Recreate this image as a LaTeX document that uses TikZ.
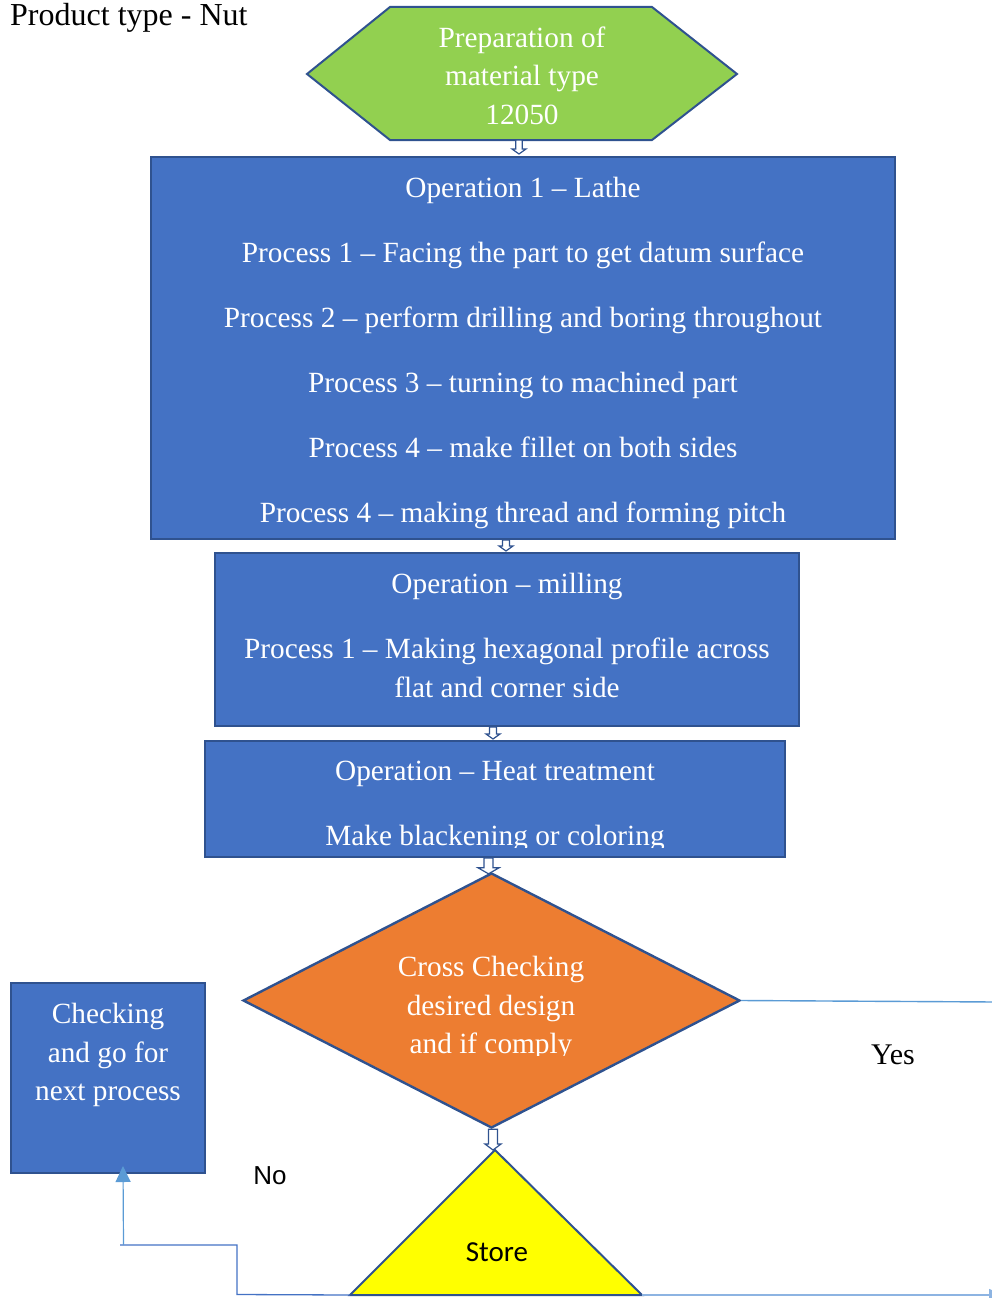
\documentclass[tikz,border=0pt]{standalone}
\usepackage{fontspec}
\setmainfont{Liberation Serif}
\newfontfamily\storefont{Carlito}
\newfontfamily\labelsans{Liberation Sans}
\usetikzlibrary{shapes.geometric,calc,arrows.meta}

\definecolor{boxblue}{HTML}{4472C4}
\definecolor{edgeblue}{HTML}{2F528F}
\definecolor{leafgreen}{HTML}{92D050}
\definecolor{decorange}{HTML}{ED7D31}
\definecolor{storeyellow}{HTML}{FFFF00}
\definecolor{linkblue}{HTML}{5B9BD5}
\definecolor{palelink}{HTML}{8DB4E2}

\tikzset{
  shapeedge/.style={draw=edgeblue, line width=2pt, line join=miter},
  procbox/.style={shapeedge, fill=boxblue, rectangle, inner sep=0pt},
  wtext/.style={text=white, font=\fontsize{29.3}{38.5}\selectfont, align=center, inner sep=0pt},
  blockarrow/.style={draw=edgeblue, fill=white, line width=1.2pt, line join=miter},
  yeslink/.style={draw=linkblue, line width=1.4pt},
  nolink/.style={draw=boxblue, line width=1.3pt},
  returnlink/.style={draw=palelink, line width=1.6pt, -{Triangle[width=12pt,length=14pt]}},
  recheckarrow/.style={draw=linkblue, line width=1.2pt, -{Triangle[width=15pt,length=16pt]}},
}

% hollow block arrow between two named points: from, to, body half width, head half width, head length, x shift
\newcommand\flowarrow[6]{%
  \draw[blockarrow] let \p1=(#1), \p2=(#2) in
    (\x2+#6pt-#3pt,\y1) -- (\x2+#6pt+#3pt,\y1) -- (\x2+#6pt+#3pt,\y2+#5pt)
    -- (\x2+#6pt+#4pt,\y2+#5pt) -- (\x2+#6pt,\y2) -- (\x2+#6pt-#4pt,\y2+#5pt)
    -- (\x2+#6pt-#3pt,\y2+#5pt) -- cycle;
}

\begin{document}
\begin{tikzpicture}[x=1pt,y=-1pt]
\useasboundingbox (0,0) rectangle (992,1298);

% title
\node[anchor=west, inner sep=0pt, font=\fontsize{32}{37}\selectfont] (title) at (10,18) {Product type - Nut};

% material preparation (hexagon)
\draw[shapeedge, fill=leafgreen] (307,74) -- (390,7) -- (652,7) -- (737,74) -- (652,140) -- (390,140) -- cycle;
\coordinate (hexbot) at (522,140);
\node[wtext] (prep) at (522,75.5) {Preparation of\\material type\\12050};

% operation boxes
\node[procbox, minimum width=744, minimum height=382] (op1) at (523,348) {};
\node[procbox, minimum width=584, minimum height=173] (op2) at (507,639.5) {};
\node[procbox, minimum width=580, minimum height=116] (op3) at (495,799) {};

\node[wtext] (op1text) at (523,353) {Operation 1 – Lathe\\[26.5pt]
  Process 1 – Facing the part to get datum surface\\[26.5pt]
  Process 2 – perform drilling and boring throughout\\[26.5pt]
  Process 3 – turning to machined part\\[26.5pt]
  Process 4 – make fillet on both sides\\[26.5pt]
  Process 4 – making thread and forming pitch};
\node[wtext] (op2text) at (507,635.5) {Operation – milling\\[26.5pt]
  Process 1 – Making hexagonal profile across\\flat and corner side};
\begin{scope}
  \clip (0,700) rectangle (992,847);
  \node[wtext] (op3text) at (495,806.5) {Operation – Heat treatment\\[26.5pt]Make blackening or coloring};
\end{scope}

% inspection decision
\node[diamond, shapeedge, line width=2.4pt, fill=decorange, minimum width=497, minimum height=255, inner sep=0pt] (check) at (491.5,1000.5) {};
\begin{scope}
  \clip (0,900) rectangle (992,1055);
  \node[wtext] (checktext) at (491,1008) {Cross Checking\\desired design\\and if comply};
\end{scope}

% rework box
\node[procbox, minimum width=194, minimum height=190] (recheck) at (108,1078) {};
\node[wtext] (rechecktext) at (108,1055) {Checking\\and go for\\next process};

% store (triangle)
\coordinate (storetop) at (495,1150);
\coordinate (storeR) at (642,1295);
\coordinate (storeL) at (350,1295);
\draw[shapeedge, fill=storeyellow] (storetop) -- (storeR) -- (storeL) -- cycle;
\node[inner sep=0pt, font=\storefont\fontsize{29}{34}\selectfont] (storetext) at (497,1252) {Store};

% flow arrows
\flowarrow{hexbot}{$(op1.north)+(0,-2)$}{3.2}{7}{5}{-4}
\flowarrow{op1.south}{$(op2.north)+(0,-1)$}{3.5}{7}{5}{-1}
\flowarrow{op2.south}{$(op3.north)+(0,-1)$}{3.5}{7}{5}{-2}
\flowarrow{op3.south}{$(check.north)+(0,2)$}{4.5}{10.5}{6}{-3}
\flowarrow{check.south}{storetop}{4.5}{8}{6}{-2}

% decision outcomes
\coordinate (yesout) at (996,1002);
\draw[yeslink] (check.east) -- (yesout);
\node[inner sep=0pt, font=\fontsize{30}{36}\selectfont] (yes) at (893,1055) {Yes};

\coordinate (returnout) at (1003,1295);
\draw[returnlink] (storeR) -- (returnout);

\coordinate (nobend) at (237,1294.5);
\coordinate (nojoin) at (123.5,1245);
\draw[nolink] (storeL) -- (nobend) -- (237,1245) -- (120,1245);
\draw[recheckarrow] (nojoin) -- ($(recheck.south)+(15,-8)$);
\node[inner sep=0pt, font=\labelsans\fontsize{26}{30}\selectfont] (no) at (270,1176) {No};

\end{tikzpicture}
\end{document}
